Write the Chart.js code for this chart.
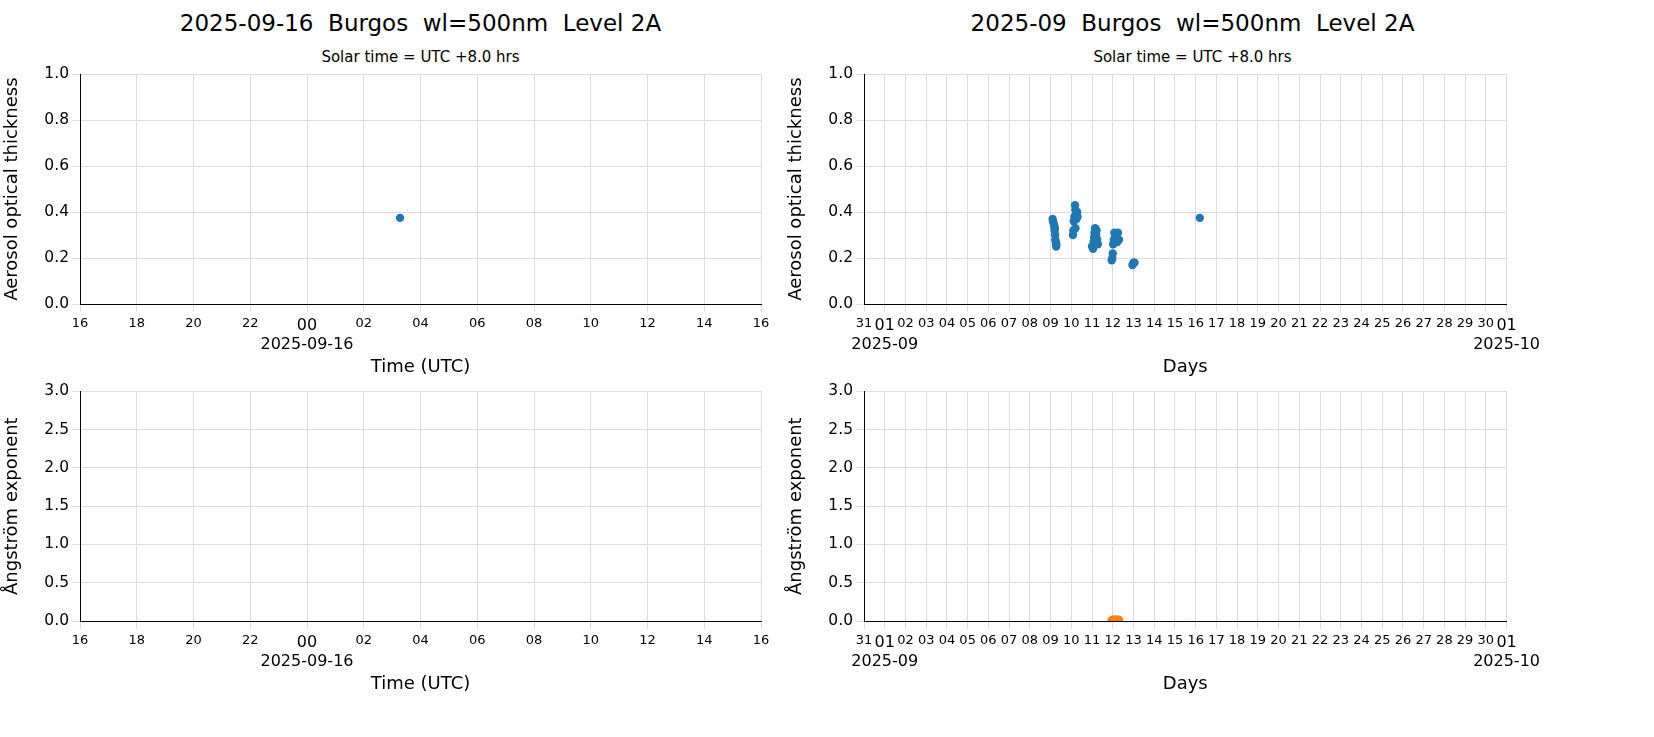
<!DOCTYPE html>
<html><head><meta charset="utf-8">
<script src="https://cdn.jsdelivr.net/npm/chart.js@4"></script>
<style>
body{margin:0;width:1654px;height:737px;background:#fff;font-family:"DejaVu Sans",sans-serif;position:relative;overflow:hidden}
.t{position:absolute;text-align:center;white-space:pre}
canvas{position:absolute}
</style></head><body>
<div class="t" style="left:80px;width:681px;top:10px;font-size:23px">2025-09-16  Burgos  wl=500nm  Level 2A</div>
<div class="t" style="left:864px;width:657px;top:10px;font-size:23px">2025-09  Burgos  wl=500nm  Level 2A</div>
<div class="t" style="left:80px;width:681px;top:48px;font-size:15px">Solar time = UTC +8.0 hrs</div>
<div class="t" style="left:864px;width:657px;top:48px;font-size:15px">Solar time = UTC +8.0 hrs</div>
<canvas id="c1" style="left:0;top:62px"></canvas>
<canvas id="c2" style="left:784px;top:62px"></canvas>
<canvas id="c3" style="left:0;top:379px"></canvas>
<canvas id="c4" style="left:784px;top:379px"></canvas>
<script>
// day view: hours since 2025-09-15 16:00 UTC
const dayHours = [11.28];
const dayAod = [0.375];
// month view: days since 2025-08-31 00:00
const monthDays = [9.10,9.12,9.15,9.18,9.20,9.22,9.23,9.25,9.27,9.28,9.20,
  10.08,10.10,10.12,10.15,10.18,10.20,10.22,10.25,10.28,10.30,10.20,
  11.00,11.05,11.08,11.10,11.12,11.15,11.18,11.20,11.25,11.28,11.22,
  11.95,11.98,12.00,12.02,12.05,12.08,12.12,12.18,12.22,12.25,12.30,
  12.95,13.00,13.05,16.20];
const monthAod = [0.37,0.36,0.35,0.34,0.32,0.30,0.28,0.27,0.25,0.26,0.33,
  0.30,0.32,0.36,0.38,0.43,0.41,0.39,0.37,0.40,0.38,0.33,
  0.25,0.24,0.27,0.29,0.31,0.33,0.32,0.30,0.28,0.26,0.32,
  0.19,0.20,0.22,0.26,0.28,0.31,0.30,0.29,0.27,0.31,0.28,
  0.17,0.18,0.18,0.375];
const angDays = [11.95,12.05,12.20,12.30];
const angValues = [0.01,0.02,0.02,0.015];

const grid = { color: '#dcdcdc', lineWidth: 1 };
const border = { color: '#000', width: 1 };

function hourLabel(v) {
  const h = (16 + v) % 24;
  const s = String(h).padStart(2, '0');
  return v === 8 ? [s, '2025-09-16'] : s;
}
function dayLabel(v) {
  if (v === 0) return '31';
  if (v === 1) return ['01', '2025-09'];
  if (v === 31) return ['01', '2025-10'];
  return String(v).padStart(2, '0');
}

function makeChart(id, width, padRight, pts, color, xMode, yMax, yStep, yTitle) {
  const canvas = document.getElementById(id);
  canvas.width = width; canvas.height = 320;
  const daily = xMode === 'day';
  new Chart(canvas, {
    type: 'scatter',
    data: { datasets: [{ data: pts, backgroundColor: color, borderColor: color, pointRadius: 4.2, pointBorderWidth: 0 }] },
    options: {
      responsive: false, animation: false,
      layout: { padding: { top: 8, right: padRight } },
      plugins: { legend: { display: false }, tooltip: { enabled: false } },
      scales: {
        x: {
          type: 'linear', min: 0, max: daily ? 24 : 31,
          afterBuildTicks: (s) => { s.ticks = []; for (let v = 0; v <= (daily ? 24 : 31); v += daily ? 2 : 1) s.ticks.push({ value: v }); },
          afterFit: (s) => { s.height = 78; },
          grid, border,
          ticks: {
            color: '#000', maxRotation: 0, autoSkip: false, padding: 4,
            font: (ctx) => ({ family: 'DejaVu Sans', size: (daily ? ctx.tick && ctx.tick.value === 8 : ctx.tick && (ctx.tick.value === 1 || ctx.tick.value === 31)) ? 16 : 13 }),
            callback: (v) => daily ? hourLabel(v) : dayLabel(v)
          },
          title: { display: true, text: daily ? 'Time (UTC)' : 'Days', color: '#000', font: { family: 'DejaVu Sans', size: 18 }, padding: { top: 2 } }
        },
        y: {
          min: 0, max: yMax,
          afterFit: (s) => { s.width = 80; },
          grid, border,
          ticks: { stepSize: yStep, color: '#000', font: { family: 'DejaVu Sans', size: 15.5 }, callback: (v) => v.toFixed(1) },
          title: { display: true, text: yTitle, color: '#000', font: { family: 'DejaVu Sans', size: 18 }, padding: 2 }
        }
      }
    }
  });
}

const toPts = (xs, ys) => xs.map((x, i) => ({ x, y: ys[i] }));
makeChart('c1', 775, 14, toPts(dayHours, dayAod), '#1f77b4', 'day', 1, 0.2, 'Aerosol optical thickness');
makeChart('c2', 760, 23, toPts(monthDays, monthAod), '#1f77b4', 'month', 1, 0.2, 'Aerosol optical thickness');
makeChart('c3', 775, 14, [], '#ff7f0e', 'day', 3, 0.5, 'Ångström exponent');
makeChart('c4', 760, 23, toPts(angDays, angValues), '#ff7f0e', 'month', 3, 0.5, 'Ångström exponent');
</script>
</body></html>
